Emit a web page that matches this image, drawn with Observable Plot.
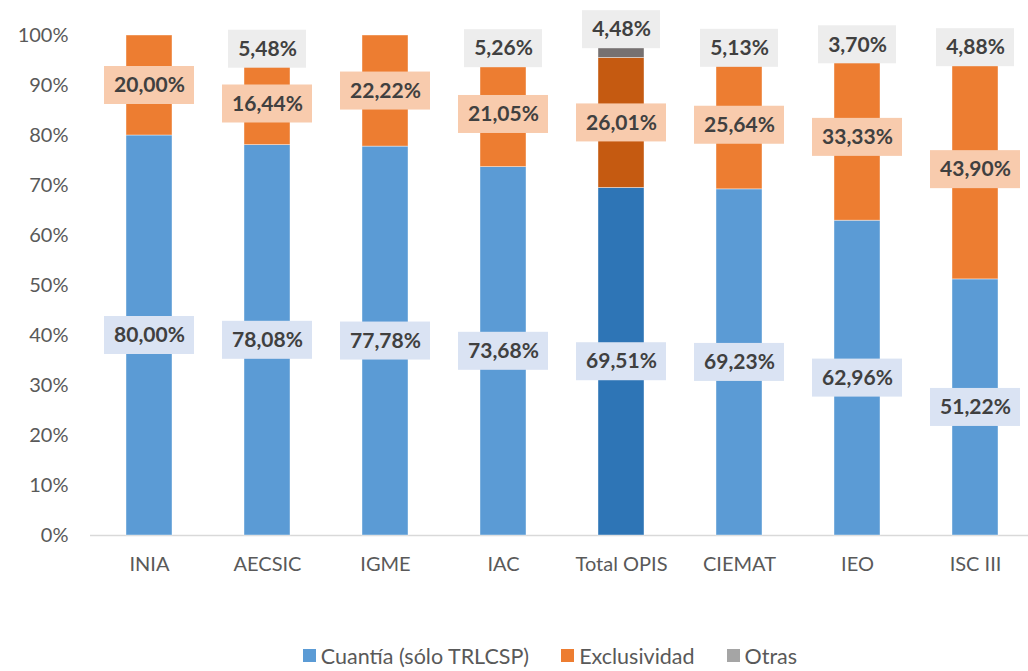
<!DOCTYPE html>
<html>
<head>
<meta charset="utf-8">
<script src="https://cdn.jsdelivr.net/npm/d3@7"></script>
<script src="https://cdn.jsdelivr.net/npm/@observablehq/plot@0.6"></script>
<style>
  body { margin: 0; background: #fff; font-family: Lato, "Open Sans", sans-serif; }
  #legend { display: flex; justify-content: center; align-items: center; height: 31px; font-size: 21.5px; color: #595959; padding-left: 72px; }
  #legend .item { display: flex; align-items: center; margin: 0 16px; }
  #legend .sw { width: 13px; height: 13px; margin-right: 5px; }
</style>
</head>
<body>
<div id="chart"></div>
<div id="legend"></div>
<script>
const categories = ["INIA", "AECSIC", "IGME", "IAC", "Total OPIS", "CIEMAT", "IEO", "ISC III"];
const seriesNames = ["Cuantía (sólo TRLCSP)", "Exclusividad", "Otras"];
const cuantia =      [80.00, 78.08, 77.78, 73.68, 69.51, 69.23, 62.96, 51.22];
const exclusividad = [20.00, 16.44, 22.22, 21.05, 26.01, 25.64, 33.33, 43.90];
const otras =        [0,     5.48,  0,     5.26,  4.48,  5.13,  3.70,  4.88];
const yTicks = [0, 10, 20, 30, 40, 50, 60, 70, 80, 90, 100];

const colors = ["#5B9BD5", "#ED7D31", "#A5A5A5"];
const totalColors = ["#2E75B6", "#C55A11", "#767171"];
const boxColors = ["#DAE3F3", "#F8CBAD", "#EDEDED"];
const highlight = "Total OPIS";

const seriesValues = [cuantia, exclusividad, otras];
const rows = [];
categories.forEach((c, i) => {
  let base = 0;
  seriesValues.forEach((vals, s) => {
    const v = vals[i];
    rows.push({category: c, s, series: seriesNames[s], value: v, y1: base, y2: base + v, mid: base + v / 2,
      fill: c === highlight ? totalColors[s] : colors[s], box: boxColors[s]});
    base += v;
  });
});
const fmt = v => v.toFixed(2).replace(".", ",") + "%";
const labelRows = rows.filter(d => d.value > 0);
const isShifted = d => d.category === highlight && d.s === 2;
const normal = labelRows.filter(d => !isShifted(d));
const shifted = labelRows.filter(isShifted);
const wide = d => fmt(d.value).length >= 6;

const labelStyle = {fill: "#404040", fontWeight: "bold", fontSize: 21};
const shift = 17;

const plot = Plot.plot({
  width: 1028,
  height: 640,
  marginLeft: 90,
  marginRight: 0,
  marginTop: 35,
  marginBottom: 105,
  style: {fontFamily: "Lato, 'Open Sans', sans-serif", fontSize: "20px", color: "#595959", background: "#fff"},
  x: {domain: categories, range: [90, 1034], paddingInner: 0.61, paddingOuter: 0.305, label: null},
  y: {domain: [0, 100], label: null},
  color: {type: "identity"},
  marks: [
    Plot.ruleY([0], {stroke: "#D9D9D9", strokeWidth: 1.5}),
    Plot.barY(labelRows, {x: "category", y1: "y1", y2: "y2", fill: "fill", stroke: "#ffffff", strokeOpacity: 0.5, strokeWidth: 0.8}),
    Plot.axisY({ticks: yTicks, tickSize: 0, tickPadding: 22, tickFormat: d => d + "%", fill: "#595959", fontSize: 20}),
    Plot.axisX({tickSize: 0, tickPadding: 21, fill: "#595959", fontSize: 20}),
    // label boxes
    Plot.rect(normal.filter(wide), {x: "category", y1: "mid", y2: "mid", fill: "box",
      insetLeft: -22, insetRight: -22, insetTop: -19, insetBottom: -19}),
    Plot.rect(normal.filter(d => !wide(d)), {x: "category", y1: "mid", y2: "mid", fill: "box",
      insetLeft: -16, insetRight: -16, insetTop: -19, insetBottom: -19}),
    Plot.rect(shifted, {x: "category", y1: "mid", y2: "mid", fill: "box",
      insetLeft: -16, insetRight: -16, insetTop: -19 - shift, insetBottom: -19 + shift}),
    Plot.text(normal, {x: "category", y: "mid", text: d => fmt(d.value), ...labelStyle}),
    Plot.text(shifted, {x: "category", y: "mid", dy: -shift, text: d => fmt(d.value), ...labelStyle})
  ]
});
document.getElementById("chart").append(plot);

const legend = document.getElementById("legend");
seriesNames.forEach((n, i) => {
  const it = document.createElement("div");
  it.className = "item";
  it.innerHTML = `<span class="sw" style="background:${colors[i]}"></span><span>${n}</span>`;
  legend.append(it);
});
</script>
</body>
</html>
